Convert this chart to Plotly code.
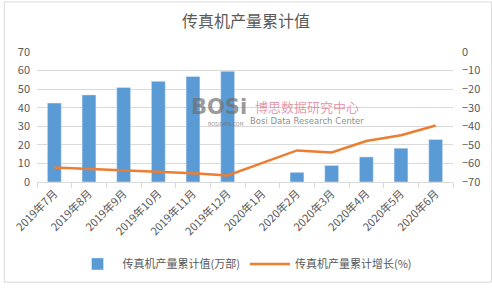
import plotly.graph_objects as go

categories = ["2019年7月", "2019年8月", "2019年9月", "2019年10月", "2019年11月", "2019年12月",
              "2020年1月", "2020年2月", "2020年3月", "2020年4月", "2020年5月", "2020年6月"]
output_values = [42.5, 46.9, 50.9, 54.2, 56.8, 59.6, None, 5.2, 8.9, 13.5, 18.2, 22.9]
growth_values = [-62.2, -63.0, -63.9, -64.4, -65.3, -66.5, None, -53.0, -54.1, -47.9, -44.8, -39.6]

bar_name = "传真机产量累计值(万部)"
line_name = "传真机产量累计增长(%)"
title_text = "传真机产量累计值"

FONT = "Noto Sans CJK SC, Microsoft YaHei, sans-serif"
GREY = "#595959"

fig = go.Figure()
fig.add_trace(go.Bar(x=categories, y=output_values, name=bar_name,
                     marker_color="#5B9BD5", width=0.4, yaxis="y"))
fig.add_trace(go.Scatter(x=categories, y=growth_values, name=line_name, mode="lines",
                         line=dict(color="#ED7D31", width=2.5), connectgaps=True, yaxis="y2"))

fig.update_layout(
    width=492, height=291,
    margin=dict(l=33, r=39, t=52, b=104),
    paper_bgcolor="white", plot_bgcolor="white",
    font=dict(family=FONT, color=GREY, size=11),
    title=dict(text=title_text, x=0.5, xanchor="center", y=0.925, yanchor="middle",
               font=dict(size=16, color=GREY, family=FONT)),
    xaxis=dict(type="category", tickangle=-45, tickfont=dict(size=11, color=GREY),
               showline=True, linecolor="#D9D9D9", linewidth=1,
               ticks="outside", tickson="boundaries", ticklen=5, tickcolor="#D9D9D9",
               showgrid=False),
    yaxis=dict(range=[0, 70], dtick=10, showgrid=True, gridcolor="#D9D9D9",
               zeroline=False, tickfont=dict(size=11, color=GREY), ticks="", ticklabelstandoff=6),
    yaxis2=dict(range=[-70, 0], dtick=10, overlaying="y", side="right", showgrid=False,
                zeroline=False, tickfont=dict(size=11, color=GREY), ticklabelstandoff=8),
    legend=dict(orientation="h", x=0.5, xanchor="center", y=-0.63, yanchor="middle",
                font=dict(size=11, color=GREY), itemwidth=40),
    showlegend=True,
)

def px(x, y):
    return (x - 33) / 420, (187 - y) / 135

# watermark
wx, wy = px(217, 109)
fig.add_annotation(text="<b>BOSi</b>", x=wx, y=wy, xref="paper", yref="paper", showarrow=False,
                   font=dict(size=21, color="rgba(110,110,110,0.7)", family="DejaVu Sans"))
wx, wy = px(224, 126)
fig.add_annotation(text="BOSIDATA.COM", x=wx, y=wy, xref="paper", yref="paper",
                   showarrow=False, font=dict(size=5, color="rgba(110,110,110,0.8)"))
wx, wy = px(306, 109)
fig.add_annotation(text="博思数据研究中心", x=wx, y=wy, xref="paper", yref="paper",
                   showarrow=False, font=dict(size=13, color="rgba(220,130,150,0.8)", family=FONT))
wx, wy = px(306, 124)
fig.add_annotation(text="Bosi Data Research Center", x=wx, y=wy, xref="paper",
                   yref="paper", showarrow=False, font=dict(size=8.5, color="rgba(110,110,110,0.8)", family="DejaVu Sans"))

# outer border
fig.add_shape(type="rect", xref="paper", yref="paper", x0=-33 / 420, x1=(492 - 33) / 420,
              y0=-104 / 135, y1=(291 - 104) / 135, line=dict(color="#D9D9D9", width=1))

fig.write_html("out.html")
